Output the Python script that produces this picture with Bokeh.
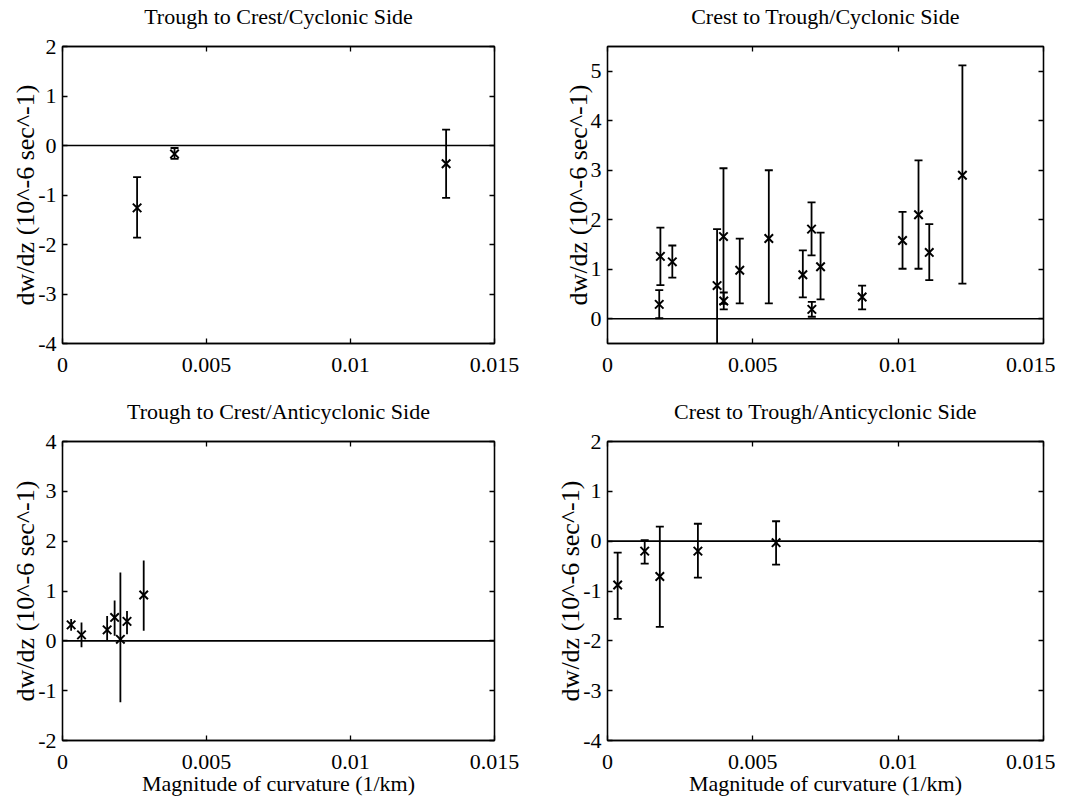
from bokeh.plotting import figure
from bokeh.models import LinearAxis, FixedTicker, CustomJSTickFormatter, Range1d, Span, ColumnDataSource
from bokeh.layouts import column, row
from bokeh.embed import file_html
from bokeh.resources import INLINE

# ---------------- data ----------------
x_ticks = [0, 0.005, 0.01, 0.015]

# Trough to Crest / Cyclonic Side
tc_cyc_x = [0.00259, 0.00389, 0.01332]
tc_cyc_y = [-1.26, -0.17, -0.37]
tc_cyc_up = [-0.64, -0.05, 0.32]
tc_cyc_lo = [-1.86, -0.27, -1.06]

# Crest to Trough / Cyclonic Side
ct_cyc_x = [0.00178, 0.00182, 0.00223, 0.00377, 0.00399, 0.00400, 0.00455, 0.00555,
            0.00672, 0.00702, 0.00703, 0.00733, 0.00876, 0.01015, 0.01070, 0.01107, 0.01221]
ct_cyc_y = [0.29, 1.26, 1.15, 0.67, 1.66, 0.36, 0.98, 1.62,
            0.89, 1.81, 0.19, 1.05, 0.44, 1.58, 2.10, 1.34, 2.90]
ct_cyc_up = [0.58, 1.84, 1.48, 1.81, 3.04, 0.53, 1.62, 3.00,
             1.38, 2.35, 0.34, 1.74, 0.67, 2.16, 3.20, 1.91, 5.12]
ct_cyc_lo = [0.01, 0.68, 0.83, -0.60, 0.30, 0.19, 0.31, 0.31,
             0.43, 1.28, 0.04, 0.39, 0.19, 1.01, 1.01, 0.78, 0.71]

# Trough to Crest / Anticyclonic Side
tc_anti_x = [0.00030, 0.00066, 0.00155, 0.00181, 0.00201, 0.00224, 0.00282]
tc_anti_y = [0.32, 0.12, 0.22, 0.47, 0.03, 0.39, 0.92]
tc_anti_up = [0.44, 0.37, 0.50, 0.81, 1.37, 0.60, 1.61]
tc_anti_lo = [0.20, -0.13, 0.00, 0.10, -1.23, 0.13, 0.20]

# Crest to Trough / Anticyclonic Side
ct_anti_x = [0.00035, 0.00128, 0.00180, 0.00311, 0.00580]
ct_anti_y = [-0.88, -0.20, -0.71, -0.20, -0.03]
ct_anti_up = [-0.23, 0.02, 0.29, 0.35, 0.40]
ct_anti_lo = [-1.56, -0.45, -1.72, -0.73, -0.47]

FONT = "Liberation Serif"
FS = "22px"
YFS = "26px"
YLABEL = "dw/dz (10^-6 sec^-1)"
XLABEL = "Magnitude of curvature (1/km)"


def style_axis(ax, show_labels=True, standoff=6):
    ax.major_tick_in = 5
    ax.major_tick_out = 0
    ax.minor_tick_line_color = None
    ax.axis_line_color = "black"
    ax.axis_line_width = 1.3
    ax.major_tick_line_color = "black"
    ax.major_tick_line_width = 1.3
    ax.major_label_text_font = FONT
    if show_labels:
        ax.major_label_text_color = "black"
        ax.major_label_text_font_size = FS
        ax.major_label_standoff = standoff
    else:
        ax.major_label_text_color = None
        ax.major_label_text_font_size = "1px"
        ax.major_label_standoff = 0


def make_panel(title, xs, ys, ups, los, yrange, yticks, frame_w, frame_h,
               bl, br, bt, bb, xlabel=None, caps=True):
    p = figure(frame_width=frame_w, frame_height=frame_h,
               min_border_left=bl, min_border_right=br, min_border_top=bt, min_border_bottom=bb,
               x_range=Range1d(0, 0.015), y_range=Range1d(*yrange),
               toolbar_location=None, output_backend="svg")
    p.grid.visible = False
    p.outline_line_color = "black"
    p.outline_line_alpha = 1.0
    p.outline_line_width = 1.3
    p.background_fill_color = "white"
    p.border_fill_color = "white"

    fmt = CustomJSTickFormatter(code="return tick.toString();")
    p.xaxis.ticker = FixedTicker(ticks=x_ticks)
    p.xaxis.formatter = fmt
    p.yaxis.ticker = FixedTicker(ticks=yticks)
    p.yaxis.formatter = fmt
    style_axis(p.xaxis[0], standoff=14)
    style_axis(p.yaxis[0], standoff=6)
    p.yaxis.axis_label = YLABEL
    p.yaxis.axis_label_text_font = FONT
    p.yaxis.axis_label_text_font_size = YFS
    p.yaxis.axis_label_text_font_style = "normal"
    p.yaxis.axis_label_text_color = "black"
    p.yaxis.axis_label_standoff = -5
    if xlabel:
        p.xaxis.axis_label = xlabel
        p.xaxis.axis_label_text_font = FONT
        p.xaxis.axis_label_text_font_size = FS
        p.xaxis.axis_label_text_font_style = "normal"
        p.xaxis.axis_label_text_color = "black"
        p.xaxis.axis_label_standoff = -1

    # top axis: inward ticks only, panel title as its label
    top = LinearAxis(ticker=FixedTicker(ticks=x_ticks))
    style_axis(top, show_labels=False)
    top.axis_label = title
    top.axis_label_text_font = FONT
    top.axis_label_text_font_size = FS
    top.axis_label_text_font_style = "normal"
    top.axis_label_text_color = "black"
    top.axis_label_standoff = 18
    p.add_layout(top, "above")

    right = LinearAxis(ticker=FixedTicker(ticks=yticks))
    style_axis(right, show_labels=False)
    p.add_layout(right, "right")

    p.add_layout(Span(location=0, dimension="width", line_color="black", line_width=1.6))

    src = ColumnDataSource(dict(x=xs, y=ys, up=ups, lo=los))
    p.segment(x0="x", y0="lo", x1="x", y1="up", source=src, line_color="black", line_width=1.8)
    if caps:
        p.scatter(x="x", y="up", source=src, marker="dash", size=8, line_color="black", line_width=1.8)
        p.scatter(x="x", y="lo", source=src, marker="dash", size=8, line_color="black", line_width=1.8)
    p.scatter(x="x", y="y", source=src, marker="x", size=12, line_color="black", line_width=2.0)
    return p


p1 = make_panel("Trough to Crest/Cyclonic Side", tc_cyc_x, tc_cyc_y, tc_cyc_up, tc_cyc_lo,
                (-4, 2), [-4, -3, -2, -1, 0, 1, 2], 432, 297, 62, 50, 46, 52)
p2 = make_panel("Crest to Trough/Cyclonic Side", ct_cyc_x, ct_cyc_y, ct_cyc_up, ct_cyc_lo,
                (-0.5, 5.5), [0, 1, 2, 3, 4, 5], 436, 297, 63, 12, 46, 52)
p3 = make_panel("Trough to Crest/Anticyclonic Side", tc_anti_x, tc_anti_y, tc_anti_up, tc_anti_lo,
                (-2, 4), [-2, -1, 0, 1, 2, 3, 4], 432, 299, 62, 50, 46, 56, xlabel=XLABEL, caps=False)
p4 = make_panel("Crest to Trough/Anticyclonic Side", ct_anti_x, ct_anti_y, ct_anti_up, ct_anti_lo,
                (-4, 2), [-4, -3, -2, -1, 0, 1, 2], 436, 299, 63, 12, 46, 56, xlabel=XLABEL)

layout = column(row(p1, p2), row(p3, p4))
open("out.html", "w").write(file_html(layout, INLINE))
